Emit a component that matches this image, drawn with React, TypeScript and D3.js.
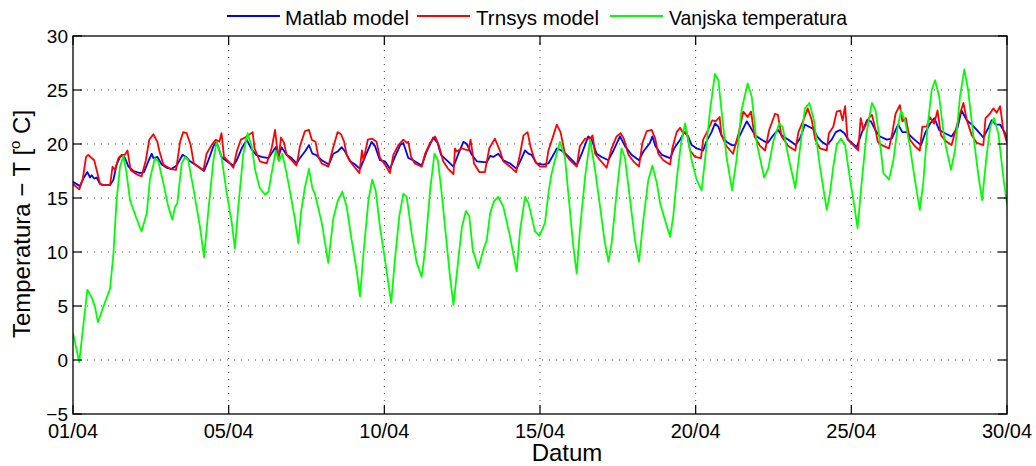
import React from "react";
import * as d3 from "d3";

const xTickValues = [0, 5, 10, 15, 20, 25, 30];
const xTickLabels = ["01/04", "05/04", "10/04", "15/04", "20/04", "25/04", "30/04"];
const yTickValues = [-5, 0, 5, 10, 15, 20, 25, 30];
const yTickLabels = ["\u22125", "0", "5", "10", "15", "20", "25", "30"];
const seriesNames = ["Matlab model", "Trnsys model", "Vanjska temperatura"];
const seriesColors = ["#0000ff", "#ff0000", "#00ff00"];

// [day, temperature]
const matlabModel: [number, number][] = [
  [0.0,16.5],[0.22,16.1],[0.33,16.8],[0.46,17.4],[0.55,16.9],[0.6,17.1],[0.68,16.8],[0.76,16.9],[0.87,16.3],[0.97,16.2],[1.19,16.2],[1.3,16.7],[1.4,18.1],[1.51,18.8],[1.6,19.0],[1.67,18.7],[1.78,17.9],[1.94,17.5],[2.15,17.3],[2.28,17.4],[2.42,18.4],[2.53,19.1],[2.58,18.7],[2.71,18.8],[2.85,18.1],[3.01,17.8],[3.17,17.7],[3.33,18.0],[3.52,19.0],[3.63,18.8],[3.76,18.4],[3.97,18.0],[4.21,17.5],[4.35,18.5],[4.51,19.8],[4.61,20.2],[4.77,18.8],[4.94,18.4],[5.15,18.0],[5.26,18.5],[5.42,19.6],[5.58,20.4],[5.74,19.5],[5.88,19.0],
  [6.06,18.8],[6.28,18.7],[6.51,19.7],[6.62,19.0],[6.7,19.7],[6.86,19.0],[7.02,18.7],[7.18,18.2],[7.29,18.7],[7.45,19.3],[7.58,19.9],[7.69,19.1],[7.8,19.0],[7.99,18.5],[8.22,18.1],[8.36,19.1],[8.5,19.3],[8.63,19.7],[8.74,19.3],[8.9,18.4],[9.06,18.1],[9.22,17.7],[9.38,18.8],[9.59,20.2],[9.7,19.8],[9.86,18.5],[10.02,18.4],[10.18,17.7],[10.34,18.8],[10.51,19.9],[10.61,20.1],[10.77,18.7],[10.98,18.4],[11.2,18.0],[11.36,19.3],[11.57,20.6],[11.71,20.1],[11.82,19.0],
  [12.0,18.5],[12.22,17.9],[12.38,19.1],[12.54,20.2],[12.65,20.0],[12.81,19.0],[12.97,18.4],[13.29,18.3],[13.4,18.9],[13.5,18.8],[13.66,19.1],[13.82,18.5],[14.04,18.2],[14.25,17.7],[14.41,18.7],[14.52,19.4],[14.63,19.1],[14.73,19.0],[14.89,18.2],[15.1,18.1],[15.27,18.2],[15.43,19.0],[15.54,19.6],[15.69,19.4],[15.86,19.0],[16.07,18.4],[16.18,18.0],[16.34,19.1],[16.55,20.7],[16.66,20.4],[16.82,19.1],[16.98,18.8],[17.2,18.5],[17.36,19.4],[17.57,20.7],[17.73,19.8],
  [17.94,19.0],[18.18,18.5],[18.32,19.3],[18.53,20.1],[18.61,20.7],[18.71,19.8],[18.91,19.0],[19.18,18.7],[19.31,19.6],[19.5,20.4],[19.64,21.1],[19.76,20.7],[19.87,19.9],[20.03,19.6],[20.24,19.4],[20.34,20.2],[20.51,21.1],[20.62,21.9],[20.73,21.6],[20.83,20.8],[20.99,20.2],[21.15,19.9],[21.26,19.9],[21.42,20.8],[21.64,22.1],[21.75,21.6],[21.91,20.8],[22.12,20.4],[22.31,20.1],[22.49,20.8],[22.65,21.3],[22.76,20.8],[22.98,20.4],[23.21,19.9],[23.35,20.5],[23.51,21.8],[23.64,21.6],[23.78,21.4],
  [23.9,20.7],[24.05,20.2],[24.21,19.9],[24.37,20.4],[24.5,21.1],[24.64,21.3],[24.78,21.0],[24.9,20.4],[25.17,19.7],[25.33,21.0],[25.5,22.2],[25.63,22.1],[25.77,21.3],[25.92,20.7],[26.14,20.4],[26.3,20.5],[26.5,21.8],[26.64,21.1],[26.78,21.1],[26.99,20.5],[27.24,19.9],[27.37,21.0],[27.53,21.9],[27.67,22.4],[27.82,21.3],[28.01,21.0],[28.22,20.7],[28.41,21.5],[28.54,23.1],[28.71,22.2],[28.87,21.8],[29.03,21.3],[29.24,20.6],[29.4,21.5],[29.51,22.2],[29.64,21.8],[29.78,21.8],[29.94,21.0],[30.0,20.5]
];

const trnsysModel: [number, number][] = [
  [0.0,16.3],[0.2,15.8],[0.31,16.7],[0.42,18.8],[0.49,19.0],[0.6,18.7],[0.68,18.5],[0.76,17.6],[0.87,16.3],[0.97,16.2],[1.19,16.2],[1.27,17.9],[1.35,17.6],[1.46,18.7],[1.56,19.0],[1.67,19.0],[1.75,19.4],[1.85,17.6],[2.04,17.2],[2.2,17.0],[2.34,18.5],[2.45,20.4],[2.58,20.9],[2.71,20.2],[2.77,19.4],[2.9,18.1],[3.12,17.7],[3.31,17.6],[3.44,20.2],[3.54,21.1],[3.65,21.0],[3.78,19.9],[3.88,18.2],[4.03,17.9],[4.19,17.6],[4.29,19.1],[4.45,19.9],[4.59,20.4],[4.7,20.2],[4.77,21.0],[4.85,18.8],[4.99,18.4],[5.15,17.8],[5.26,19.3],[5.39,20.4],[5.53,20.6],[5.63,20.8],[5.77,21.1],[5.83,19.6],
  [6.0,18.4],[6.22,18.2],[6.38,19.6],[6.49,21.3],[6.6,18.5],[6.68,20.6],[6.78,20.1],[6.86,19.0],[7.02,18.5],[7.18,18.0],[7.29,19.8],[7.45,21.2],[7.58,21.3],[7.67,20.4],[7.79,20.2],[7.88,18.8],[7.99,18.2],[8.2,17.9],[8.33,19.4],[8.5,21.1],[8.61,20.9],[8.71,20.2],[8.79,19.0],[8.95,18.2],[9.2,17.3],[9.28,19.4],[9.33,18.5],[9.47,20.4],[9.61,20.5],[9.75,20.2],[9.86,18.7],[10.02,18.1],[10.18,17.3],[10.29,19.0],[10.45,19.9],[10.61,20.4],[10.72,20.1],[10.77,20.2],[10.86,18.8],[10.98,18.2],[11.2,17.9],[11.31,19.1],[11.47,20.1],[11.63,20.7],[11.76,19.8],
  [11.89,18.4],[12.05,17.7],[12.22,17.2],[12.27,19.6],[12.32,19.3],[12.49,19.6],[12.7,19.4],[12.77,20.4],[12.88,18.2],[13.05,17.4],[13.23,17.4],[13.37,19.6],[13.55,20.5],[13.71,19.4],[13.82,18.4],[14.04,17.9],[14.23,17.4],[14.36,19.1],[14.47,20.8],[14.6,21.1],[14.7,19.7],[14.84,18.4],[15.0,17.9],[15.19,17.9],[15.27,19.4],[15.43,20.8],[15.54,21.8],[15.66,21.1],[15.8,19.1],[15.96,18.5],[16.18,17.9],[16.28,19.8],[16.45,20.5],[16.61,20.5],[16.69,20.8],[16.77,19.1],[16.93,18.5],[17.14,17.8],[17.3,19.6],[17.46,20.7],[17.59,21.0],[17.69,20.5],
  [17.84,19.0],[18.0,18.4],[18.18,17.9],[18.29,20.1],[18.43,21.2],[18.59,21.3],[18.7,20.5],[18.8,19.1],[18.96,18.5],[19.18,18.1],[19.25,19.6],[19.39,21.1],[19.5,21.5],[19.6,21.0],[19.71,21.1],[19.82,19.4],[19.98,18.8],[20.17,18.7],[20.24,20.4],[20.4,21.3],[20.53,22.2],[20.64,22.1],[20.77,22.5],[20.83,20.8],[20.99,19.8],[21.2,19.1],[21.38,21.0],[21.53,23.0],[21.67,22.5],[21.78,23.0],[21.89,20.7],[22.07,19.8],[22.23,19.4],[22.36,21.3],[22.55,22.8],[22.64,22.7],[22.76,20.7],[22.98,19.8],[23.2,19.4],[23.3,21.1],[23.46,22.2],[23.6,23.3],[23.73,22.2],
  [23.84,20.4],[23.99,19.6],[24.21,19.4],[24.28,21.0],[24.42,21.6],[24.53,23.0],[24.64,23.1],[24.72,22.2],[24.8,23.5],[24.88,20.4],[25.06,19.9],[25.22,19.4],[25.3,22.4],[25.39,21.3],[25.56,22.4],[25.66,22.7],[25.74,21.8],[25.85,20.2],[25.98,19.9],[26.21,19.6],[26.32,21.1],[26.42,22.8],[26.56,23.6],[26.64,22.1],[26.75,22.4],[26.88,20.4],[27.04,19.8],[27.2,19.4],[27.28,21.6],[27.42,21.6],[27.52,22.5],[27.66,21.9],[27.77,23.1],[27.88,20.8],[28.06,20.2],[28.22,19.9],[28.35,21.3],[28.49,22.8],[28.6,23.8],[28.71,22.2],[28.87,20.8],[29.03,20.1],[29.24,19.9],[29.31,22.4],[29.45,22.8],[29.56,23.3],[29.67,22.9],[29.78,23.5],[29.88,21.3],[30.0,20.1]
];

const outdoorTemp: [number, number][] = [
  [0.0,2.5],[0.2,-0.2],[0.46,6.5],[0.6,5.8],[0.71,4.9],[0.8,3.5],[0.97,4.9],[1.19,6.6],[1.3,9.9],[1.4,14.8],[1.51,17.9],[1.62,18.9],[1.72,17.3],[1.83,14.8],[2.04,13.1],[2.2,11.9],[2.37,13.6],[2.47,16.7],[2.63,18.7],[2.74,18.4],[2.9,16.4],[3.06,14.2],[3.19,13.0],[3.28,14.2],[3.35,14.5],[3.49,18.2],[3.6,18.8],[3.7,18.5],[3.86,16.0],[4.08,12.3],[4.21,9.5],[4.35,13.9],[4.51,18.5],[4.61,20.2],[4.77,18.8],[4.94,15.4],[5.1,12.7],[5.2,10.3],[5.31,14.2],[5.47,19.1],[5.61,21.0],[5.74,19.8],[5.85,17.6],
  [6.0,15.9],[6.17,15.3],[6.28,15.6],[6.38,17.3],[6.51,19.4],[6.62,18.4],[6.72,19.1],[6.86,17.3],[7.02,14.8],[7.13,13.0],[7.24,10.8],[7.32,13.6],[7.45,16.0],[7.58,17.7],[7.69,15.9],[7.77,15.4],[7.99,12.7],[8.2,9.0],[8.36,13.1],[8.5,14.7],[8.65,15.6],[8.79,14.2],[8.95,11.1],[9.11,8.3],[9.22,5.9],[9.33,9.9],[9.49,14.8],[9.61,16.7],[9.72,15.7],[9.86,12.3],[10.02,9.3],[10.22,5.3],[10.34,9.3],[10.48,13.3],[10.61,15.4],[10.72,15.1],[10.88,11.7],[11.04,9.0],[11.2,7.7],[11.31,10.2],[11.47,15.7],[11.61,19.1],[11.72,18.5],[11.84,15.5],
  [11.95,12.3],[12.11,7.7],[12.22,5.1],[12.35,8.6],[12.49,12.3],[12.62,13.8],[12.73,13.3],[12.84,10.2],[13.02,8.5],[13.18,10.2],[13.29,11.1],[13.4,13.6],[13.52,14.7],[13.66,15.1],[13.82,14.2],[14.04,11.4],[14.25,8.2],[14.36,12.0],[14.52,15.1],[14.63,14.5],[14.73,13.3],[14.84,11.9],[14.98,11.5],[15.16,12.7],[15.27,15.4],[15.36,17.1],[15.48,18.5],[15.64,20.2],[15.8,18.8],[15.96,13.9],[16.07,10.5],[16.18,8.0],[16.28,12.0],[16.45,17.0],[16.61,20.4],[16.77,17.6],[16.93,14.2],[17.07,11.1],[17.2,9.1],[17.3,10.8],[17.46,15.4],[17.62,19.6],[17.73,18.7],
  [17.89,14.9],[18.05,11.1],[18.18,9.1],[18.32,13.0],[18.48,16.7],[18.61,18.0],[18.75,16.4],[18.86,14.5],[19.01,13.0],[19.18,11.4],[19.28,13.3],[19.39,16.7],[19.53,20.1],[19.66,21.9],[19.76,20.4],[19.87,18.5],[20.03,16.7],[20.19,15.7],[20.3,18.5],[20.46,23.1],[20.62,26.5],[20.73,25.9],[20.83,23.1],[20.99,18.8],[21.17,15.7],[21.31,18.5],[21.47,23.1],[21.67,25.6],[21.8,24.4],[21.96,20.1],[22.2,16.9],[22.33,17.7],[22.49,20.2],[22.68,21.9],[22.79,21.6],[22.98,18.8],[23.2,15.9],[23.36,19.8],[23.51,23.3],[23.65,23.8],[23.8,22.2],
  [23.99,17.9],[24.21,13.9],[24.31,15.4],[24.42,17.9],[24.53,19.9],[24.67,20.5],[24.8,19.9],[24.96,16.7],[25.1,14.2],[25.2,12.2],[25.33,16.4],[25.49,21.0],[25.66,23.8],[25.78,23.1],[25.92,20.1],[26.03,17.3],[26.21,16.7],[26.35,18.5],[26.49,21.6],[26.6,23.1],[26.72,22.2],[26.88,19.8],[27.04,16.7],[27.2,13.9],[27.31,16.4],[27.45,21.6],[27.58,25.0],[27.69,25.9],[27.82,24.4],[27.99,20.4],[28.2,17.6],[28.33,19.4],[28.49,24.4],[28.63,26.9],[28.75,25.0],[28.91,21.0],[29.08,17.1],[29.2,14.8],[29.33,18.5],[29.46,21.6],[29.58,22.4],[29.72,21.0],[29.88,17.0],[30.0,14.4]
];

const W = 1036;
const H = 466;
const left = 73;
const right = 1007;
const top = 36;
const bottom = 414;
const font = "'Liberation Sans', Arial, Helvetica, sans-serif";

export default function App() {
  const x = d3.scaleLinear().domain([0, 30]).range([left, right]);
  const y = d3.scaleLinear().domain([-5, 30]).range([bottom, top]);
  const line = d3
    .line<[number, number]>()
    .x((d) => x(d[0]))
    .y((d) => y(d[1]));
  const series = [matlabModel, trnsysModel, outdoorTemp];
  const tickLen = 9;

  const legendItems = [
    { lx: 227, tx: 285, tw: 124 },
    { lx: 417, tx: 476, tw: 123 },
    { lx: 610, tx: 669, tw: 178 },
  ];

  return (
    <svg
      width={W}
      height={H}
      style={{ position: "absolute", left: 0, top: 0, background: "#fff" }}
      fontFamily={font}
    >
      <defs>
        <clipPath id="plotClip">
          <rect x={left} y={top} width={right - left} height={bottom - top} />
        </clipPath>
      </defs>
      <rect x={0} y={0} width={W} height={H} fill="#fff" />
      {/* grid */}
      {xTickValues
        .filter((v) => v > 0 && v < 30)
        .map((v) => (
          <line
            key={"gx" + v}
            x1={x(v)}
            x2={x(v)}
            y1={top}
            y2={bottom}
            stroke="#444"
            strokeWidth={1}
            strokeDasharray="1,6"
          />
        ))}
      {yTickValues
        .filter((v) => v > -5 && v < 30)
        .map((v) => (
          <line
            key={"gy" + v}
            x1={left}
            x2={right}
            y1={y(v)}
            y2={y(v)}
            stroke="#444"
            strokeWidth={1}
            strokeDasharray="1,6"
          />
        ))}
      {/* series */}
      <g clipPath="url(#plotClip)">
        {series.map((s, i) => (
          <path
            key={i}
            d={line(s) || ""}
            fill="none"
            stroke={seriesColors[i]}
            strokeWidth={1.8}
            strokeLinejoin="round"
          />
        ))}
      </g>
      {/* box */}
      <rect
        x={left}
        y={top}
        width={right - left}
        height={bottom - top}
        fill="none"
        stroke="#000"
        strokeWidth={1.3}
      />
      {/* ticks */}
      {xTickValues.map((v) => (
        <g key={"tx" + v}>
          <line x1={x(v)} x2={x(v)} y1={bottom} y2={bottom - tickLen} stroke="#000" strokeWidth={1.2} />
          <line x1={x(v)} x2={x(v)} y1={top} y2={top + tickLen} stroke="#000" strokeWidth={1.2} />
        </g>
      ))}
      {yTickValues.map((v) => (
        <g key={"ty" + v}>
          <line x1={left} x2={left + tickLen} y1={y(v)} y2={y(v)} stroke="#000" strokeWidth={1.2} />
          <line x1={right} x2={right - tickLen} y1={y(v)} y2={y(v)} stroke="#000" strokeWidth={1.2} />
        </g>
      ))}
      {/* tick labels */}
      {xTickValues.map((v, i) => (
        <text key={"lx" + v} x={x(v)} y={438} textAnchor="middle" fontSize={20} fill="#000">
          {xTickLabels[i]}
        </text>
      ))}
      {yTickValues.map((v, i) => (
        <text
          key={"ly" + v}
          x={68}
          y={y(v) + 6.5}
          textAnchor="end"
          fontSize={19}
          fill="#000"
        >
          {yTickLabels[i]}
        </text>
      ))}
      {/* axis labels */}
      <text x={567} y={461} textAnchor="middle" fontSize={24} fill="#000">
        Datum
      </text>
      <text
        transform="translate(30,224) rotate(-90)"
        textAnchor="middle"
        fontSize={24}
        fill="#000"
      >
        {"Temperatura  \u2212 T ["}
        <tspan fontSize={15} dy={-10}>o</tspan>
        <tspan dy={10}>{" C]"}</tspan>
      </text>
      {/* legend */}
      {legendItems.map((it, i) => (
        <g key={"lg" + i}>
          <line x1={it.lx} x2={it.lx + 53} y1={16} y2={16} stroke={seriesColors[i]} strokeWidth={1.8} />
          <text
            x={it.tx}
            y={25}
            fontSize={21}
            fill="#000"
            textLength={it.tw}
            lengthAdjust="spacingAndGlyphs"
          >
            {seriesNames[i]}
          </text>
        </g>
      ))}
    </svg>
  );
}
